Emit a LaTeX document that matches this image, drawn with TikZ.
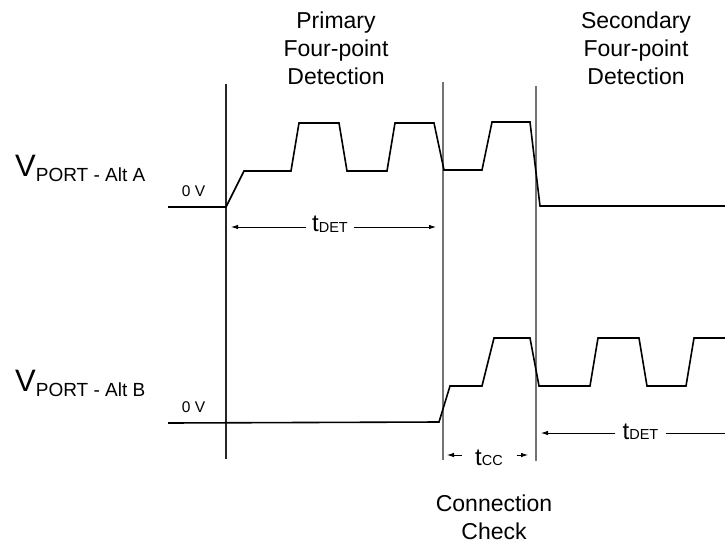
\documentclass[tikz,border=0pt]{standalone}
\usepackage{fontspec}
\setmainfont{Liberation Sans}
\usetikzlibrary{arrows.meta}
\newcommand{\sigsub}[1]{\raisebox{-5pt}{\fontsize{19}{19}\selectfont #1}}
\newcommand{\timesub}[1]{\raisebox{-0.8pt}{\fontsize{14.5}{14.5}\selectfont #1}}
\begin{document}
\begin{tikzpicture}[x=1pt, y=-1pt,
  wave/.style={line width=1.6pt, line join=miter},
  marker/.style={line width=1.1pt, black!55},
  dimline/.style={line width=0.8pt, -{Latex[length=7pt,width=4.5pt]}},
  phase/.style={align=center, anchor=north, inner sep=0pt, font=\fontsize{23}{28}\selectfont},
  tlabel/.style={anchor=base, inner ysep=0pt, inner xsep=5.5pt, font=\fontsize{24}{24}\selectfont},
  zero/.style={anchor=base west, inner sep=0pt, font=\fontsize{15.5}{16}\selectfont},
  vlabel/.style={anchor=base west, inner sep=0pt, font=\fontsize{31}{31}\selectfont},
]
\useasboundingbox (0,0) rectangle (725,544);

\node[phase] (primary) at (336,11.5) {Primary\\Four-point\\Detection};
\node[phase] (secondary) at (636,11.5) {Secondary\\Four-point\\Detection};
\node[phase] (check) at (494,495) {Connection\\Check};

\draw[marker, black!85] (226,84) -- (226,459);
\draw[marker] (443,82) -- (443,460);
\draw[marker] (536,86) -- (536,461);

\node[vlabel] (portA) at (15,176) {V\sigsub{PORT - Alt A}};
\node[zero] (zeroA) at (181.7,196.5) {0 V};
\draw[wave] (168,207) -- (226,207) -- (244,171) -- (291,171) -- (299,123) -- (339,123)
  -- (347,171) -- (387,171) -- (395,123) -- (434,123) -- (444,170) -- (482,170)
  -- (492,122) -- (530,122) -- (540,206) -- (725,206);

\node[vlabel] (portB) at (15,391) {V\sigsub{PORT - Alt B}};
\node[zero] (zeroB) at (181.7,412.7) {0 V};
\draw[wave] (168,423) -- (439,422) -- (450,386) -- (482,386) -- (494,338) -- (530,338)
  -- (539,386) -- (590,386) -- (598,338) -- (639,338) -- (647,386) -- (686,386)
  -- (694,338) -- (725,338);

\coordinate (detAL) at (231,227);
\coordinate (detAR) at (436,227);
\node[tlabel] (tdetA) at (330,231.7) {t\timesub{DET}};
\draw[dimline] (tdetA.west |- detAL) -- (detAL);
\draw[dimline] (tdetA.east |- detAR) -- (detAR);

\coordinate (detBL) at (541,433);
\coordinate (detBR) at (725,433);
\node[tlabel, inner xsep=7pt] (tdetB) at (640.5,439) {t\timesub{DET}};
\draw[dimline] (tdetB.west |- detBL) -- (detBL);
\draw[line width=0.8pt] (tdetB.east |- detBR) -- (detBR);

\coordinate (ccL) at (447,455);
\coordinate (ccR) at (528,455);
\node[tlabel, inner xsep=13.5pt] (tcc) at (489,465) {t\timesub{CC}};
\draw[dimline] (tcc.west |- ccL) -- (ccL);
\draw[dimline] (tcc.east |- ccR) -- (ccR);
\end{tikzpicture}
\end{document}
